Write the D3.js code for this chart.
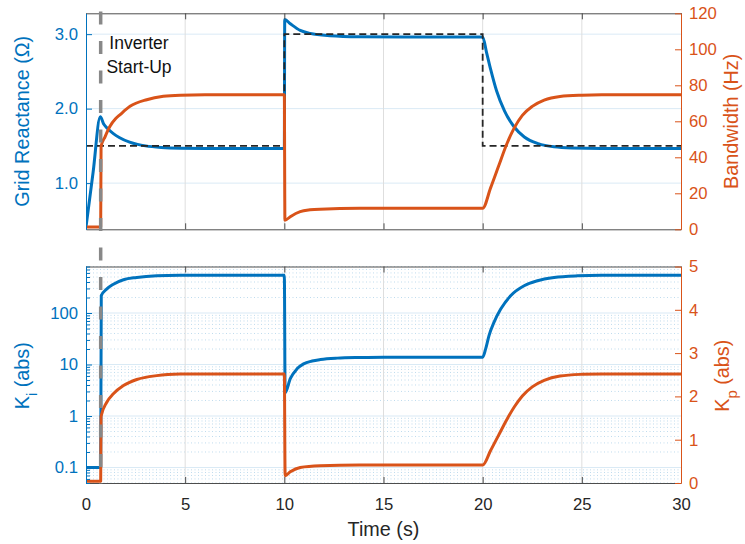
<!DOCTYPE html>
<html>
<head>
<meta charset="utf-8">
<script src="https://cdn.jsdelivr.net/npm/d3@7"></script>
<style>
    body { margin: 0; background: #fff; }
    svg { display: block; font-family: "Liberation Sans", Arial, Helvetica, sans-serif; }
</style>
</head>
<body>
<div id="chart"></div>
<script>
// tick values
const timeTicks = [0, 5, 10, 15, 20, 25, 30];
const reactanceTicks = [1.0, 2.0, 3.0];
const bandwidthTicks = [0, 20, 40, 60, 80, 100, 120];
const kiTicks = [0.1, 1, 10, 100];
const kpTicks = [0, 1, 2, 3, 4, 5];
const startupTime = 0.74;

// [time (s), value]
const reactanceEst = [[0, 0.41], [0.36, 1.15], [0.72, 1.89], [0.9, 1.79], [1.1, 1.73], [1.38, 1.665],
    [1.7, 1.61], [2.2, 1.55], [2.6, 1.52], [3.0, 1.50], [3.8, 1.478], [4.75, 1.468], [6.0, 1.465],
    [10.0, 1.465], [10.02, 3.197], [10.3, 3.14], [10.8, 3.05], [11.3, 3.01], [12.3, 2.98], [13.8, 2.966],
    [16.0, 2.962], [20.0, 2.962], [20.2, 2.75], [20.4, 2.53], [20.7, 2.24], [21.1, 1.97], [21.6, 1.75],
    [22.1, 1.62], [22.8, 1.53], [23.6, 1.487], [24.5, 1.472], [26.0, 1.466], [30.0, 1.465]];

const reactanceRef = [[0, 1.5], [10, 3.0], [20, 1.5], [30, 1.5]];

const bandwidth = [[0, 1.3], [0.74, 1.3], [0.76, 46], [0.96, 51.4], [1.21, 57.2], [1.5, 61.5], [1.72, 63.7],
    [2.22, 68.3], [3.06, 72.0], [3.9, 73.9], [4.75, 74.5], [6.0, 74.7], [10.0, 74.7], [10.03, 5.0],
    [10.3, 7.0], [10.8, 9.8], [11.3, 10.8], [11.8, 11.2], [13.8, 11.7], [20.0, 11.7], [20.4, 23.0],
    [20.8, 35.0], [21.2, 47.0], [21.6, 56.5], [22.0, 63.3], [22.5, 68.3], [23.1, 71.8], [23.9, 73.8],
    [25.0, 74.5], [26.0, 74.7], [30.0, 74.7]];

const kiGain = [[0, 0.1], [0.74, 0.1], [0.77, 217], [1.04, 291], [1.38, 363], [1.89, 443], [2.56, 490],
    [3.57, 528], [4.75, 540], [6.0, 542], [10.0, 542], [10.04, 2.8], [10.3, 5.3], [10.64, 8.25],
    [10.97, 10.3], [11.4, 11.7], [11.82, 12.5], [12.66, 13.3], [13.84, 13.7], [15.0, 13.9], [20.0, 13.9],
    [20.15, 20.1], [20.32, 36.5], [20.57, 66], [20.91, 119], [21.41, 217], [22.09, 339], [22.76, 424],
    [23.6, 490], [24.78, 528], [26.0, 540], [30.0, 542]];

const kpGain = [[0, 0.04], [0.74, 0.04], [0.76, 1.54], [1.04, 1.86], [1.38, 2.06], [1.89, 2.25], [2.56, 2.39],
    [3.57, 2.48], [4.75, 2.515], [6.0, 2.52], [10.0, 2.52], [10.04, 0.17], [10.3, 0.26], [10.8, 0.36],
    [11.8, 0.40], [13.8, 0.415], [20.0, 0.415], [20.4, 0.75], [20.8, 1.10], [21.2, 1.45], [21.6, 1.76],
    [22.0, 2.01], [22.5, 2.22], [23.1, 2.37], [23.9, 2.47], [25.0, 2.51], [26.0, 2.52], [30.0, 2.52]];

const BLUE = '#0072BD', ORANGE = '#D95319', DARK = '#262626';
const tickFont = 16.7, labelFont = 19.8;

const width = 745, height = 544;
const left = 86, right = 681;
const top1 = 13.3, bot1 = 229.3, top2 = 266.5, bot2 = 483;

let svg = d3.select('#chart').append('svg')
    .attr('width', width)
    .attr('height', height);

const x = d3.scaleLinear().domain([0, 30]).range([left, right]);
const yReact = d3.scaleLinear().domain([0.38, 3.28]).range([bot1, top1]);
const yBw = d3.scaleLinear().domain([0, 120]).range([bot1, top1]);
const yKi = d3.scaleLog().domain([0.05, 800]).range([bot2, top2]);
const yKp = d3.scaleLinear().domain([0, 5]).range([bot2, top2]);

// clip paths for the two panels
const defs = svg.append('defs');
defs.append('clipPath').attr('id', 'clipTop').append('rect')
    .attr('x', left).attr('y', top1).attr('width', right - left).attr('height', bot1 - top1);
defs.append('clipPath').attr('id', 'clipBot').append('rect')
    .attr('x', left).attr('y', top2).attr('width', right - left).attr('height', bot2 - top2);

function hGrid(scale, values, dash, opacity) {
    svg.append('g')
        .selectAll('line')
        .data(values)
        .enter()
        .append('line')
        .attr('x1', left).attr('x2', right)
        .attr('y1', d => scale(d)).attr('y2', d => scale(d))
        .attr('stroke', BLUE)
        .attr('stroke-opacity', opacity)
        .attr('stroke-width', 1)
        .attr('stroke-dasharray', dash);
}

function vGrid(y0, y1) {
    svg.append('g')
        .selectAll('line')
        .data(timeTicks.filter(d => d > 0 && d < 30))
        .enter()
        .append('line')
        .attr('x1', d => x(d)).attr('x2', d => x(d))
        .attr('y1', y0).attr('y2', y1)
        .attr('stroke', '#dedede')
        .attr('stroke-width', 1);
}

// grids
hGrid(yReact, reactanceTicks, null, 0.15);
vGrid(top1, bot1);

const isDecade = d => Math.abs(Math.log10(d) - Math.round(Math.log10(d))) < 1e-9;
const kiMinor = yKi.ticks().filter(d => !isDecade(d));
hGrid(yKi, kiMinor, '1,2.5', 0.25);
hGrid(yKi, kiTicks, null, 0.15);
vGrid(top2, bot2);

// series
function drawLine(data, ys, color, clip, w) {
    svg.append('path')
        .datum(data)
        .attr('clip-path', 'url(#' + clip + ')')
        .attr('fill', 'none')
        .attr('stroke', color)
        .attr('stroke-width', w)
        .attr('stroke-linejoin', 'round')
        .attr('d', d3.line()
            .x(d => x(d[0]))
            .y(d => ys(d[1]))
            .curve(d3.curveMonotoneX));
}

drawLine(reactanceEst, yReact, BLUE, 'clipTop', 3);

svg.append('path')
    .datum(reactanceRef)
    .attr('fill', 'none')
    .attr('stroke', DARK)
    .attr('stroke-width', 1.8)
    .attr('stroke-dasharray', '7,4')
    .attr('d', d3.line()
        .x(d => x(d[0]))
        .y(d => yReact(d[1]))
        .curve(d3.curveStepAfter));

drawLine(bandwidth, yBw, ORANGE, 'clipTop', 3);

drawLine(kiGain, yKi, BLUE, 'clipBot', 3);
drawLine(kpGain, yKp, ORANGE, 'clipBot', 3);

// axes
function styleAxis(g, color) {
    g.attr('font-size', tickFont)
        .attr('font-family', null);
    g.select('.domain').attr('stroke', color);
    g.selectAll('.tick line').attr('stroke', color);
    g.selectAll('.tick text').attr('fill', color);
}

function timeAxes(y0, y1, labelled) {
    svg.append('g')
        .attr('transform', `translate(0,${y0})`)
        .call(d3.axisTop(x).tickValues(timeTicks).tickSize(-6).tickSizeOuter(0).tickFormat(''))
        .call(g => styleAxis(g, '#4d4d4d'));
    let bottom = d3.axisBottom(x).tickValues(timeTicks).tickSize(-6).tickSizeOuter(0)
        .tickPadding(15).tickFormat(d3.format('d'));
    if (!labelled) bottom.tickFormat('');
    svg.append('g')
        .attr('transform', `translate(0,${y1})`)
        .call(bottom)
        .call(g => styleAxis(g, '#4d4d4d'))
        .call(g => g.selectAll('.tick text').attr('fill', DARK));
}

timeAxes(top1, bot1, false);
timeAxes(top2, bot2, true);

svg.append('g')
    .attr('transform', `translate(${left},0)`)
    .call(d3.axisLeft(yReact).tickValues(reactanceTicks).tickFormat(d3.format('.1f'))
        .tickSize(-6).tickSizeOuter(0).tickPadding(8))
    .call(g => styleAxis(g, BLUE));

svg.append('g')
    .attr('transform', `translate(${right},0)`)
    .call(d3.axisRight(yBw).tickValues(bandwidthTicks).tickFormat(d3.format('d'))
        .tickSize(-6).tickSizeOuter(0).tickPadding(8))
    .call(g => styleAxis(g, ORANGE));

svg.append('g')
    .attr('transform', `translate(${left},0)`)
    .call(d3.axisLeft(yKi).tickValues(kiMinor).tickFormat('').tickSize(-4).tickSizeOuter(0))
    .call(g => styleAxis(g, BLUE));

svg.append('g')
    .attr('transform', `translate(${left},0)`)
    .call(d3.axisLeft(yKi).tickValues(kiTicks).tickFormat(d => d < 1 ? d.toFixed(1) : String(d))
        .tickSize(-6).tickSizeOuter(0).tickPadding(8))
    .call(g => styleAxis(g, BLUE));

svg.append('g')
    .attr('transform', `translate(${right},0)`)
    .call(d3.axisRight(yKp).tickValues(kpTicks).tickFormat(d3.format('d'))
        .tickSize(-6).tickSizeOuter(0).tickPadding(8))
    .call(g => styleAxis(g, ORANGE));

// inverter start-up marker, spans both panels
svg.append('line')
    .attr('x1', x(startupTime)).attr('x2', x(startupTime))
    .attr('y1', 4).attr('y2', 484)
    .attr('stroke', '#888')
    .attr('stroke-width', 3.5)
    .attr('stroke-dasharray', '13,16.5')
    .attr('stroke-dashoffset', 22);

let note = svg.append('text')
    .attr('font-size', 17.5)
    .attr('fill', '#111')
    .attr('text-anchor', 'middle');
note.append('tspan').attr('x', 139).attr('y', 49.3).text('Inverter');
note.append('tspan').attr('x', 139).attr('y', 72.7).text('Start-Up');

// axis labels
svg.append('text')
    .attr('transform', `translate(29,${(top1 + bot1) / 2}) rotate(-90)`)
    .attr('text-anchor', 'middle')
    .attr('font-size', labelFont)
    .attr('fill', BLUE)
    .text('Grid Reactance (Ω)');

svg.append('text')
    .attr('transform', `translate(737.5,${(top1 + bot1) / 2}) rotate(-90)`)
    .attr('text-anchor', 'middle')
    .attr('font-size', labelFont)
    .attr('fill', ORANGE)
    .text('Bandwidth (Hz)');

function gainLabel(px, sub, color) {
    let t = svg.append('text')
        .attr('transform', `translate(${px},${(top2 + bot2) / 2 + 1}) rotate(-90)`)
        .attr('text-anchor', 'middle')
        .attr('font-size', labelFont)
        .attr('fill', color);
    t.append('tspan').text('K');
    t.append('tspan').attr('font-size', 15).attr('dy', 8).text(sub);
    t.append('tspan').attr('dy', -8).text(' (abs)');
}
gainLabel(29, 'i', BLUE);
gainLabel(729, 'p', ORANGE);

svg.append('text')
    .attr('x', (left + right) / 2)
    .attr('y', 535.5)
    .attr('text-anchor', 'middle')
    .attr('font-size', labelFont)
    .attr('fill', DARK)
    .text('Time (s)');
</script>
</body>
</html>
